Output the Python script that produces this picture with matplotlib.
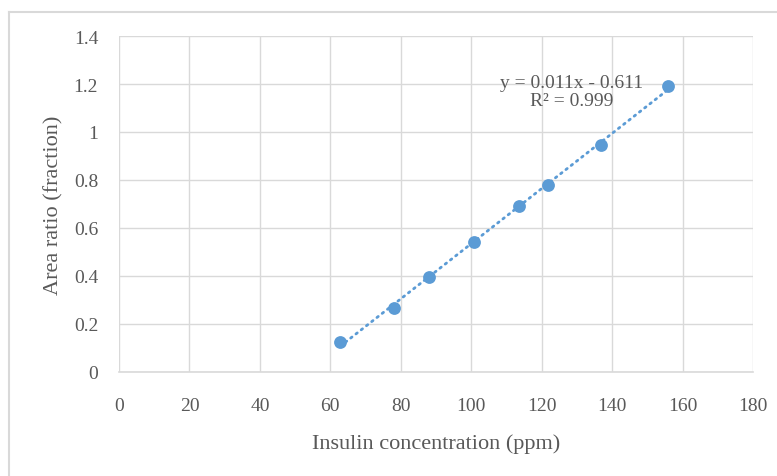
import numpy as np
import matplotlib
matplotlib.use("Agg")
import matplotlib.pyplot as plt
from matplotlib.lines import Line2D

# insulin concentration (ppm) vs area ratio
conc = [62.8, 78.1, 88.0, 100.9, 113.7, 121.7, 136.9, 155.9]
ratio = [0.126, 0.268, 0.395, 0.543, 0.693, 0.779, 0.946, 1.193]
eq_text = "y = 0.011x - 0.611\nR² = 0.999"

blue = "#5B9BD5"
grid = "#D9D9D9"
txt = "#595959"

plt.rcParams['font.family'] = ['Liberation Serif', 'DejaVu Serif']

fig = plt.figure(figsize=(7.77, 4.77), dpi=100)
ax = fig.add_axes([119/777, 1-373/477, (753-119)/777, (373-37)/477])

# linear trendline over the data range
k, b = np.polyfit(conc, ratio, 1)
xs = np.array([min(conc), max(conc)])
ax.plot(xs, k*xs + b, color=blue, lw=2.0, ls=(0, (0.6, 1.8)),
        dash_capstyle='round', zorder=2)
ax.scatter(conc, ratio, s=85, color=blue, zorder=3, linewidths=0)

ax.set_xlim(0, 180)
ax.set_ylim(0, 1.4)
ax.set_xticks(range(0, 181, 20))
ax.set_yticks([0, 0.2, 0.4, 0.6, 0.8, 1.0, 1.2, 1.4])
ax.set_yticklabels(["0", "0.2", "0.4", "0.6", "0.8", "1", "1.2", "1.4"])
ax.grid(True, color=grid, lw=1.0)
ax.set_axisbelow(True)
for s in ['top', 'right', 'left']:
    ax.spines[s].set_visible(False)
ax.spines['bottom'].set_color(grid)
ax.spines['bottom'].set_linewidth(1.2)
ax.tick_params(length=0, labelsize=14, colors=txt)
ax.tick_params(axis='x', pad=18)
ax.tick_params(axis='y', pad=15)

ax.set_xlabel("Insulin concentration (ppm)", fontsize=16, color=txt, labelpad=14)
ax.set_ylabel("Area ratio (fraction)", fontsize=16, color=txt, labelpad=7)

ax.text(128.6, 1.17, eq_text, fontsize=14, color=txt, ha='center', va='center',
        linespacing=1.05)

# outer chart frame (cropped)
fig.add_artist(Line2D([8.5/777, 8.5/777], [0, 1-13/477], color=grid, lw=1.5,
                      transform=fig.transFigure))
fig.add_artist(Line2D([8.5/777, 1], [1-13/477, 1-13/477], color=grid, lw=1.5,
                      transform=fig.transFigure))

fig.savefig("out.png", dpi=100)
